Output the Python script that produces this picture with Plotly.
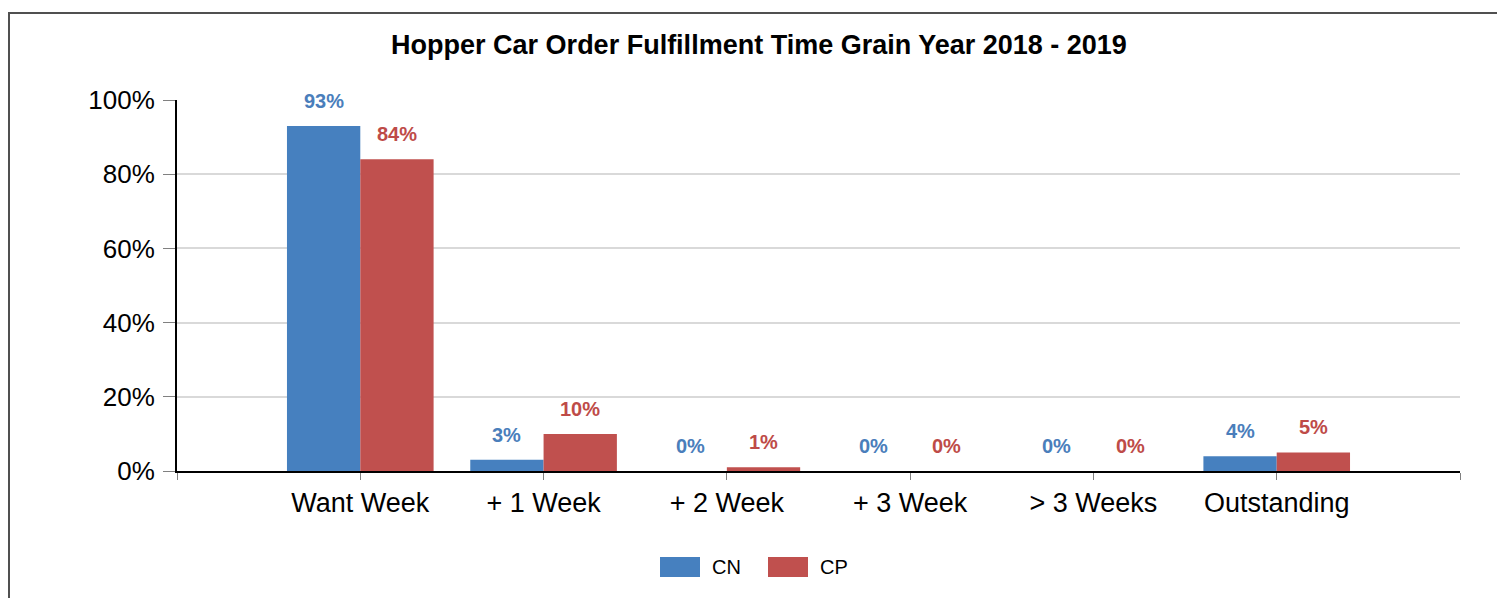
import plotly.graph_objects as go

categories = ["Want Week", "+ 1 Week", "+ 2 Week", "+ 3 Week", "> 3 Weeks", "Outstanding"]
series_names = ["CN", "CP"]
cn_values = [93, 3, 0, 0, 0, 4]
cp_values = [84, 10, 1, 0, 0, 5]
y_ticks = [0, 20, 40, 60, 80, 100]
y_tick_labels = [f"{v}%" for v in y_ticks]

CN_COLOR = "#4680BF"
CP_COLOR = "#C0504E"
CN_TEXT = "#4A7EBB"
CP_TEXT = "#BE4B48"
FONT = "Liberation Sans, Arial, sans-serif"

# page body has an 8px margin; figure sized to fit window
OFF = 8
W, H = 1497, 590
L, R, T, B = 169, 45, 92, 127
pw, ph = W - L - R, H - T - B


def sx(px):  # screen x -> paper x
    return (px - OFF - L) / pw


def sy(py):  # screen y -> paper y
    return (H - B - (py - OFF)) / ph


x_idx = list(range(len(categories)))

fig = go.Figure()
fig.add_trace(go.Bar(name=series_names[0], x=x_idx, y=cn_values, marker=dict(color=CN_COLOR, line=dict(width=0))))
fig.add_trace(go.Bar(name=series_names[1], x=x_idx, y=cp_values, marker=dict(color=CP_COLOR, line=dict(width=0))))

# data labels
half_bar_px = pw / 7 * 0.4 / 2
for vals, col, sh in [(cn_values, CN_TEXT, -half_bar_px), (cp_values, CP_TEXT, half_bar_px)]:
    for i, v in enumerate(vals):
        fig.add_annotation(x=i, y=v, text=f"<b>{v}%</b>", showarrow=False, xshift=sh, yshift=25,
                           yanchor="middle", font=dict(family=FONT, size=20, color=col))

# custom legend (wide swatches)
for name, col, x0 in [(series_names[0], CN_COLOR, 660), (series_names[1], CP_COLOR, 768)]:
    fig.add_shape(type="rect", xref="paper", yref="paper",
                  x0=sx(x0), x1=sx(x0 + 40), y0=sy(577), y1=sy(557),
                  fillcolor=col, line=dict(width=0))
    fig.add_annotation(xref="paper", yref="paper", x=sx(x0 + 50), y=sy(567), text=name,
                       showarrow=False, xanchor="left", yanchor="middle",
                       font=dict(family=FONT, size=20, color="black"))

# outer frame
fig.add_shape(type="rect", xref="paper", yref="paper",
              x0=sx(9), x1=sx(1520), y0=sy(640), y1=sy(13),
              line=dict(color="#505050", width=2), layer="below")

fig.update_layout(
    width=W, height=H,
    margin=dict(l=L, r=R, t=T, b=B),
    paper_bgcolor="white", plot_bgcolor="white",
    barmode="group", bargap=0.2, bargroupgap=0,
    font=dict(family=FONT, color="black"),
    title=dict(text="<b>Hopper Car Order Fulfillment Time Grain Year 2018 - 2019</b>",
               x=(759 - OFF) / W, xanchor="center", y=1 - (45 - OFF) / H, yanchor="middle",
               font=dict(family=FONT, size=27, color="black")),
    showlegend=False,
    xaxis=dict(range=[-1, 6], tickmode="array", tickvals=list(range(-1, 7)),
               ticktext=[""] + categories + [""],
               showgrid=False, zeroline=False, showline=True, linecolor="black", linewidth=2,
               ticks="outside", ticklen=7, tickcolor="#808080", tickwidth=1,
               tickfont=dict(family=FONT, size=27, color="black")),
    yaxis=dict(range=[0, 100], tickmode="array", tickvals=y_ticks, ticktext=y_tick_labels,
               showgrid=True, gridcolor="#D9D9D9", gridwidth=2, zeroline=False,
               showline=True, linecolor="black", linewidth=2,
               ticks="outside", ticklen=12, tickcolor="#808080", tickwidth=1,
               ticklabelstandoff=3,
               tickfont=dict(family=FONT, size=26, color="black")),
)

fig.write_html("out.html")
